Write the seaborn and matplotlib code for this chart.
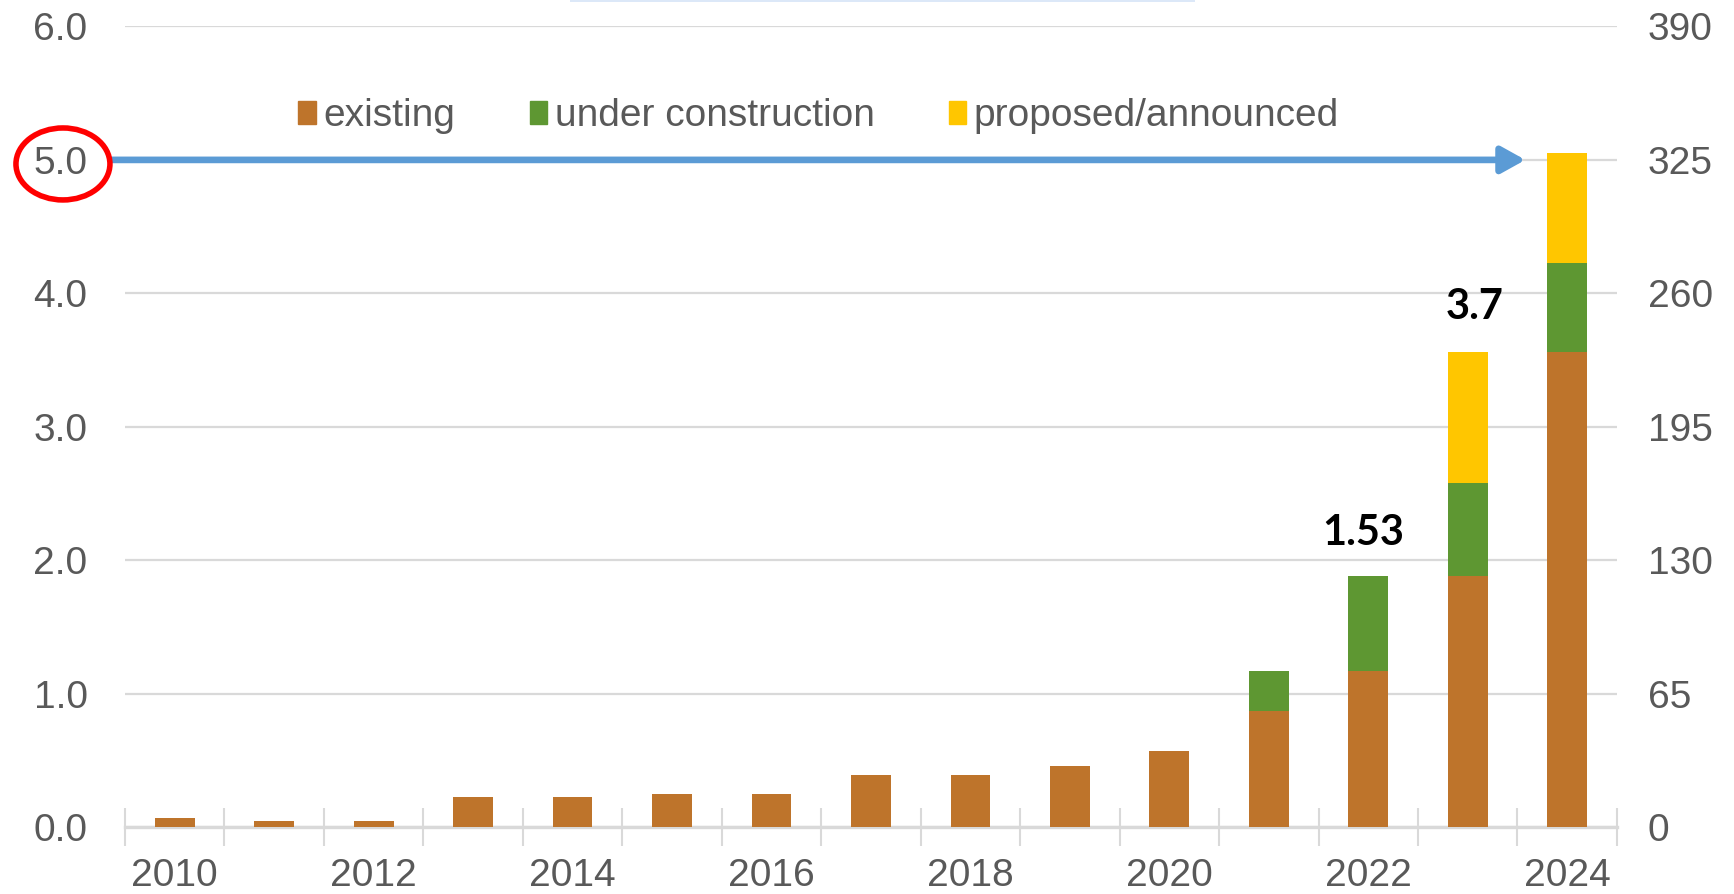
import numpy as np
import pandas as pd
import matplotlib
matplotlib.use("Agg")
import matplotlib.pyplot as plt
from matplotlib.patches import Patch, Ellipse, Rectangle
import seaborn as sns

# ----------- DATA -----------
years = list(range(2010, 2025))
existing = [0.07, 0.045, 0.045, 0.225, 0.225, 0.25, 0.25, 0.39, 0.39, 0.46, 0.57, 0.87, 1.17, 1.88, 3.56]
under_construction = [0, 0, 0, 0, 0, 0, 0, 0, 0, 0, 0, 0.30, 0.71, 0.70, 0.67]
proposed = [0, 0, 0, 0, 0, 0, 0, 0, 0, 0, 0, 0, 0, 0.98, 0.82]
left_ticks = [0.0, 1.0, 2.0, 3.0, 4.0, 5.0, 6.0]
right_ticks = [0, 65, 130, 195, 260, 325, 390]
series_names = ["existing", "under construction", "proposed/announced"]
labels_ann = [(12, 2.2, "1.53"), (13, 3.9, "3.7")]

c_exist = "#BE742B"
c_uc = "#5E9732"
c_prop = "#FFC600"
c_grid = "#D9D9D9"
c_txt = "#595959"

df = pd.DataFrame({"year": [str(y) for y in years],
                   "existing": existing,
                   "uc": under_construction,
                   "prop": proposed})
df["lvl2"] = df["existing"] + df["uc"]
df["lvl3"] = df["lvl2"] + df["prop"]

sns.set_style("white")
plt.rcParams["font.family"] = ["Liberation Sans", "DejaVu Sans"]

fig = plt.figure(figsize=(17.34, 8.94), dpi=100)
ax = fig.add_axes([0.0721, 0.0749, 0.8604, 0.8955])

order = df["year"].tolist()
# stacked bars: draw totals first, then overlay lower segments
for col, c in [("lvl3", c_prop), ("lvl2", c_uc), ("existing", c_exist)]:
    sns.barplot(data=df, x="year", y=col, order=order, color=c, width=0.4,
                saturation=1, ax=ax, zorder=3, linewidth=0, edgecolor="none")

ax.set_xlim(-0.5, len(years) - 0.5)
ax.set_ylim(0, 6.0)
ax.set_xlabel("")
ax.set_ylabel("")

# y axis
ax.set_yticks(left_ticks)
ax.set_yticklabels([f"{v:.1f}" for v in left_ticks])
ax.tick_params(axis="y", length=0, pad=27, labelsize=28, labelcolor=c_txt)
ax.grid(axis="y", color=c_grid, linewidth=1.6, zorder=0)
ax.set_axisbelow(True)

# x axis
ax.set_xticks(range(len(years)))
ax.set_xticklabels([str(y) if y % 2 == 0 else "" for y in years])
ax.tick_params(axis="x", length=0, pad=22, labelsize=28, labelcolor=c_txt)
ax.set_xticks(np.arange(-0.5, len(years), 1.0), minor=True)
ax.tick_params(axis="x", which="minor", bottom=True, direction="inout", length=28,
               width=1.5, color=c_grid)

for s in ["top", "left", "right"]:
    ax.spines[s].set_visible(False)
ax.spines["bottom"].set_color(c_grid)
ax.spines["bottom"].set_linewidth(2.4)

# right axis
ax2 = ax.twinx()
ax2.set_ylim(0, 390)
ax2.set_yticks(right_ticks)
ax2.set_yticklabels([str(v) for v in right_ticks])
ax2.tick_params(axis="y", length=0, pad=22, labelsize=28, labelcolor=c_txt)
for s in ["top", "left", "right", "bottom"]:
    ax2.spines[s].set_visible(False)
ax2.grid(False)

# legend
handles = [Patch(color=c) for c in [c_exist, c_uc, c_prop]]
ax.legend(handles, series_names, loc="center", bbox_to_anchor=(0.465, 0.888),
          ncol=3, frameon=False, fontsize=28, labelcolor=c_txt,
          handlelength=0.45, handleheight=0.55, handletextpad=0.2,
          columnspacing=1.9)

# annotations
for xi, yi, t in labels_ann:
    dx = -0.05 if t == "1.53" else 0.07
    ax.text(xi + dx, yi, t, ha="center", va="center", fontsize=30,
            fontweight="bold", color="black", family=["Lato", "DejaVu Sans"])

# blue arrow at 5.0
ax.annotate("", xy=(13.58, 5.0), xytext=(-0.64, 5.0), annotation_clip=False,
            arrowprops=dict(arrowstyle="-|>,head_length=0.9,head_width=0.5",
                            lw=4.8, color="#5B9BD5", mutation_scale=16,
                            shrinkA=0, shrinkB=0), zorder=5)

# red circle around the 5.0 label
fig.patches.append(Ellipse((0.0363, 0.8166), 0.0542, 0.0805, transform=fig.transFigure,
                           fill=False, edgecolor="#FF0000", linewidth=4, figure=fig))

# cut-off strip at the top
fig.patches.append(Rectangle((0.329, 0.9975), 0.36, 0.0025, transform=fig.transFigure,
                             facecolor="#DCE8F8", edgecolor="none", figure=fig))

fig.savefig("out.png", dpi=100)
